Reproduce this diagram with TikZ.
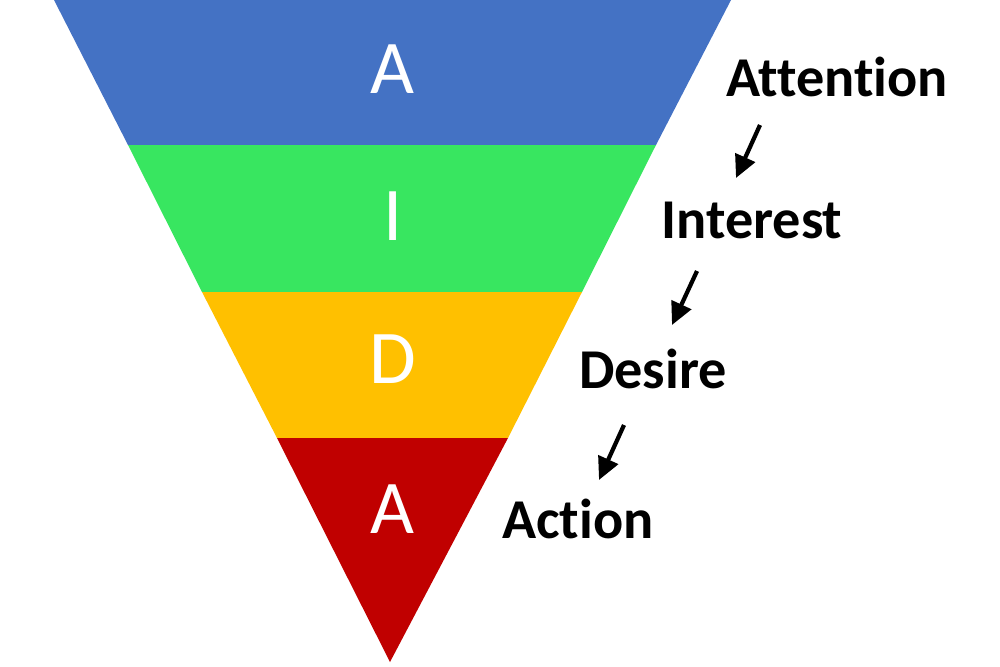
\documentclass[tikz,border=0pt]{standalone}
\usepackage{fontspec}
\setmainfont{Carlito}[Ligatures=CommonOff]
\usepackage{tikz}
\usetikzlibrary{arrows.meta,positioning}
\definecolor{aidaBlue}{HTML}{4472C4}
\definecolor{aidaGreen}{HTML}{38E660}
\definecolor{aidaYellow}{HTML}{FFC000}
\definecolor{aidaRed}{HTML}{C00000}

\tikzset{
  letter/.style={anchor=base, text=white, font=\fontsize{54}{60}\selectfont},
  stage/.style={anchor=base, text=black, font=\fontsize{40}{44}\selectfont\bfseries},
  flow/.style={-{Triangle[length=16pt,width=15pt]}, line width=3pt, black}
}

\begin{document}
\begin{tikzpicture}[x=0.025cm, y=-0.025cm]
    \useasboundingbox (0,0) rectangle (1000,666);
    % Funnel bands
    \fill[aidaBlue]   (54,0) -- (731,0) -- (656,145) -- (128,145) -- cycle;
    \fill[aidaGreen]  (128,145) -- (656,145) -- (582,292) -- (202,292) -- cycle;
    \fill[aidaYellow] (202,292) -- (582,292) -- (508,438) -- (277,438) -- cycle;
    \fill[aidaRed]    (277,438) -- (508,438) -- (390,662) -- cycle;
    % Band letters
    \node[letter] (lA) at (392,93)  {A};
    \node[letter] (lI) at (393,240) {I};
    \node[letter] (lD) at (393,383) {D};
    \node[letter] (lAc) at (392,533) {A};
    % Stage labels
    \node[stage] (attention) at (837,96)  {Attention};
    \node[stage] (interest)  at (752,238) {Interest};
    \node[stage] (desire)    at (653,388) {Desire};
    \node[stage] (action)    at (578,538) {Action};
    % Arrow ends
    \coordinate (a1) at (760,125);
    \coordinate (b1) at (736,178);
    \coordinate (a2) at (697,271);
    \coordinate (b2) at (672,325);
    \coordinate (a3) at (624,425);
    \coordinate (b3) at (599,480);
    % Arrows
    \draw[flow] (a1) -- (b1);
    \draw[flow] (a2) -- (b2);
    \draw[flow] (a3) -- (b3);
\end{tikzpicture}
\end{document}
